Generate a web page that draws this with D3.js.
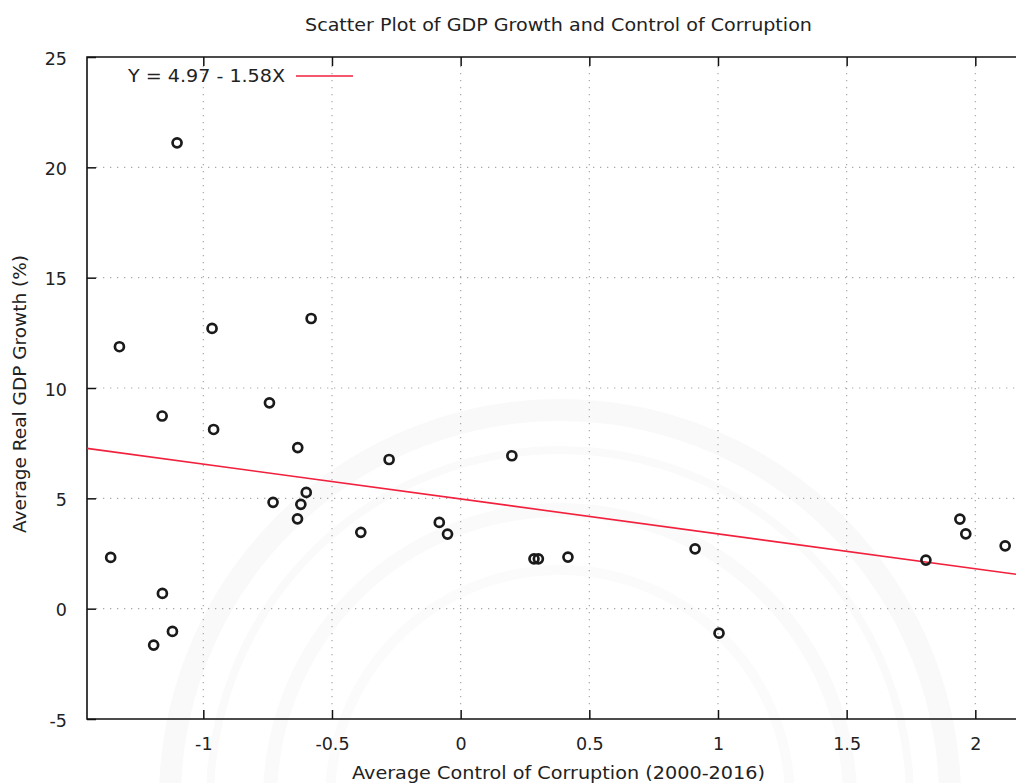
<!DOCTYPE html>
<html>
<head>
<meta charset="utf-8">
<script src="https://cdn.jsdelivr.net/npm/d3@7"></script>
<style>
  html, body { margin: 0; padding: 0; background: #fff; }
  svg { display: block; font-family: "DejaVu Sans", Verdana, sans-serif; }
</style>
</head>
<body>
<svg id="chart" width="1016" height="783"></svg>
<script>
// Country averages: control of corruption vs. real GDP growth (%)
const corruption = [
  -1.102, -1.326, -0.966, -0.581, -1.160, -0.743, -0.960, -0.633, -0.278, 0.199,
  -0.600, -0.729, -0.621, -0.634, -0.388, -0.083, -0.051, -1.360, 0.285, 0.302,
  0.417, 0.911, 1.004, 1.940, 1.963, 2.116, 1.808, -1.159, -1.120, -1.193
];
const gdpGrowth = [
  21.11, 11.87, 12.70, 13.15, 8.73, 9.33, 8.12, 7.30, 6.76, 6.93,
  5.27, 4.82, 4.73, 4.07, 3.46, 3.91, 3.38, 2.32, 2.26, 2.26,
  2.34, 2.71, -1.11, 4.06, 3.39, 2.85, 2.20, 0.69, -1.03, -1.65
];

// Fitted regression line Y = a + bX
const fitIntercept = 4.97;
const fitSlope = -1.58;
const fitLabel = "Y = 4.97 - 1.58X";

const xTicks = [-1, -0.5, 0, 0.5, 1, 1.5, 2];
const yTicks = [-5, 0, 5, 10, 15, 20, 25];
const xDomain = [-1.452, 2.162];
const yDomain = [-5, 25];

const titleText = "Scatter Plot of GDP Growth and Control of Corruption";
const xLabelText = "Average Control of Corruption (2000-2016)";
const yLabelText = "Average Real GDP Growth (%)";

const svg = d3.select("#chart");
const plotLeft = 87, plotRight = 1017, plotTop = 57, plotBottom = 719;

const x = d3.scaleLinear().domain(xDomain).range([plotLeft, plotRight]);
const y = d3.scaleLinear().domain(yDomain).range([plotBottom, plotTop]);

// very faint seal watermark in the background
const wm = svg.append("g").attr("fill", "none");
[[390, 22, "#f9f9f9"], [350, 8, "#fafafa"], [290, 14, "#fafafa"], [230, 10, "#fbfbfb"]].forEach(([r, w, c]) => {
  wm.append("circle").attr("cx", 560).attr("cy", 800).attr("r", r)
    .attr("stroke", c).attr("stroke-width", w);
});

const textColor = "#222";
const tickLen = 9;
const fmt = d => String(d);   // plain hyphen-minus labels

// grid lines (dotted)
const grid = svg.append("g").attr("stroke", "#a8a8a8").attr("stroke-width", 1.2)
  .attr("stroke-dasharray", "1.3,5.7");
xTicks.forEach(t => {
  grid.append("line").attr("x1", x(t)).attr("x2", x(t))
    .attr("y1", plotTop + tickLen).attr("y2", plotBottom - tickLen);
});
yTicks.filter(t => t > yDomain[0] && t < yDomain[1]).forEach(t => {
  grid.append("line").attr("x1", plotLeft + tickLen).attr("x2", plotRight)
    .attr("y1", y(t)).attr("y2", y(t));
});

// axes via d3 axis generators (inward ticks, mirrored on top)
const axisStyle = g => {
  g.select(".domain").remove();
  g.selectAll(".tick line").attr("stroke", "#111").attr("stroke-width", 1.5);
  g.selectAll(".tick text").attr("fill", textColor).attr("font-size", 17.5)
    .attr("font-family", "DejaVu Sans, Verdana, sans-serif");
};

svg.append("g").attr("transform", `translate(0,${plotBottom})`)
  .call(d3.axisBottom(x).tickValues(xTicks).tickSizeInner(-tickLen).tickSizeOuter(0)
    .tickPadding(19).tickFormat(fmt))
  .call(axisStyle);

svg.append("g").attr("transform", `translate(0,${plotTop})`)
  .call(d3.axisTop(x).tickValues(xTicks).tickSizeInner(-tickLen).tickSizeOuter(0)
    .tickFormat(""))
  .call(axisStyle);

svg.append("g").attr("transform", `translate(${plotLeft},0)`)
  .call(d3.axisLeft(y).tickValues(yTicks).tickSizeInner(-tickLen).tickSizeOuter(0)
    .tickPadding(20).tickFormat(fmt))
  .call(axisStyle)
  .call(g => g.selectAll(".tick text").attr("dy", "0.4em"));

// border
svg.append("path")
  .attr("d", `M${plotRight + 2},${plotTop}H${plotLeft}V${plotBottom}H${plotRight + 2}`)
  .attr("fill", "none").attr("stroke", "#111").attr("stroke-width", 1.6);

// regression line
svg.append("line")
  .attr("x1", x(xDomain[0])).attr("y1", y(fitIntercept + fitSlope * xDomain[0]))
  .attr("x2", x(xDomain[1])).attr("y2", y(fitIntercept + fitSlope * xDomain[1]))
  .attr("stroke", "#f2203c").attr("stroke-width", 1.6);

// data points (open circles)
svg.append("g").selectAll("circle")
  .data(corruption.map((c, i) => [c, gdpGrowth[i]]))
  .join("circle")
  .attr("cx", d => x(d[0])).attr("cy", d => y(d[1])).attr("r", 4.5)
  .attr("fill", "none").attr("stroke", "#1a1a1a").attr("stroke-width", 2.7);

// key
svg.append("text").attr("x", 285).attr("y", 82).attr("text-anchor", "end")
  .attr("font-size", 17.5).attr("fill", textColor)
  .attr("textLength", 157).attr("lengthAdjust", "spacingAndGlyphs")
  .text(fitLabel);
svg.append("line").attr("x1", 296).attr("x2", 353).attr("y1", 76).attr("y2", 76)
  .attr("stroke", "#f2203c").attr("stroke-width", 1.6);

// title and axis labels
svg.append("text").attr("x", 558.5).attr("y", 31).attr("text-anchor", "middle")
  .attr("font-size", 17).attr("fill", textColor)
  .attr("textLength", 507).attr("lengthAdjust", "spacingAndGlyphs")
  .text(titleText);

svg.append("text").attr("x", 558.5).attr("y", 779).attr("text-anchor", "middle")
  .attr("font-size", 17).attr("fill", textColor)
  .attr("textLength", 413).attr("lengthAdjust", "spacingAndGlyphs")
  .text(xLabelText);

svg.append("text").attr("transform", "translate(26,394) rotate(-90)")
  .attr("text-anchor", "middle")
  .attr("font-size", 17).attr("fill", textColor)
  .attr("textLength", 278).attr("lengthAdjust", "spacingAndGlyphs")
  .text(yLabelText);
</script>
</body>
</html>
